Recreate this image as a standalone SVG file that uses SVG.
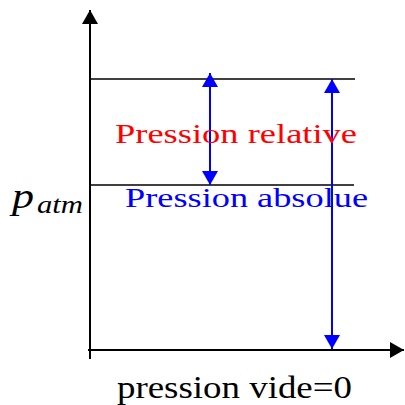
<svg xmlns="http://www.w3.org/2000/svg" width="405" height="405" viewBox="0 0 405 405">
<defs>
<style>
.ax{stroke:#000;stroke-width:2;fill:none}
.ln{stroke:#000;stroke-width:1.5;fill:none}
.bl{stroke:#0000ff;stroke-width:2;fill:none}
.t{font-family:"Liberation Serif","Times New Roman",serif}
</style>
<marker id="ah" viewBox="0 0 14 16" refX="14" refY="8" markerWidth="14" markerHeight="16" markerUnits="userSpaceOnUse" orient="auto-start-reverse">
<path d="M0,0 L14,8 L0,16 Z" fill="#000"/>
</marker>
<marker id="bh" viewBox="0 0 14 16" refX="14" refY="8" markerWidth="14" markerHeight="16" markerUnits="userSpaceOnUse" orient="auto-start-reverse">
<path d="M0,0 L14,8 L0,16 Z" fill="#0000ff"/>
</marker>
</defs>
<g id="connectors">
<line class="ax" x1="90" y1="359" x2="90" y2="10" marker-end="url(#ah)"/>
<line class="ax" x1="88" y1="350" x2="404" y2="350" marker-end="url(#ah)"/>
<line class="ln" x1="90" y1="79" x2="355" y2="79"/>
<line class="ln" x1="90" y1="185" x2="354" y2="185"/>
<line class="bl" x1="210" y1="73" x2="210" y2="185" marker-start="url(#bh)" marker-end="url(#bh)"/>
<line class="bl" x1="332" y1="79" x2="332" y2="349" marker-start="url(#bh)" marker-end="url(#bh)"/>
</g>
<g id="label-relative">
<text class="t" x="115" y="143" font-size="28" fill="#ff0000" textLength="242" lengthAdjust="spacingAndGlyphs">Pression relative</text>
</g>
<g id="label-absolue">
<text class="t" x="125" y="207" font-size="28" fill="#0000ff" textLength="243" lengthAdjust="spacingAndGlyphs">Pression absolue</text>
</g>
<g id="label-patm">
<text class="t" x="12" y="208" font-size="36" font-style="italic" fill="#000" textLength="22" lengthAdjust="spacingAndGlyphs">p</text>
<text class="t" x="37" y="213" font-size="25" font-style="italic" fill="#000" textLength="46" lengthAdjust="spacingAndGlyphs">atm</text>
</g>
<g id="label-vide">
<text class="t" x="117" y="398" font-size="31" fill="#000" textLength="235" lengthAdjust="spacingAndGlyphs">pression vide=0</text>
</g>
</svg>
